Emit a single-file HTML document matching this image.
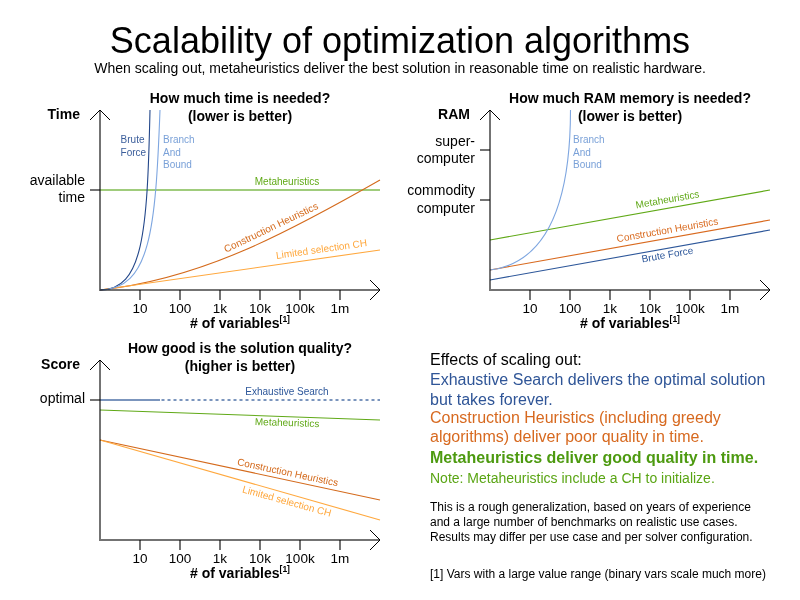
<!DOCTYPE html>
<html><head><meta charset="utf-8">
<style>
html,body{margin:0;padding:0;background:#fff;width:800px;height:600px;overflow:hidden}
svg{display:block;will-change:transform}
text{font-family:"Liberation Sans",sans-serif}
.b{font-weight:bold}
.ax{stroke:#000;stroke-opacity:0.55;stroke-width:2;fill:none}
.ar{stroke:#000;stroke-width:1;fill:none}
</style></head><body>
<svg width="800" height="600" viewBox="0 0 800 600">
<rect width="800" height="600" fill="#fff"/>
<text x="400" y="53" font-size="36" text-anchor="middle" fill="#000">Scalability of optimization algorithms</text>
<text x="400" y="72.5" font-size="14" text-anchor="middle" fill="#000">When scaling out, metaheuristics deliver the best solution in reasonable time on realistic hardware.</text>

<!-- ============ Chart 1: Time ============ -->
<g>
<text x="240" y="103" font-size="14" class="b" text-anchor="middle">How much time is needed?</text>
<text x="240" y="121" font-size="14" class="b" text-anchor="middle">(lower is better)</text>
<text x="80" y="119" font-size="14" class="b" text-anchor="end">Time</text>
<text x="85" y="185" font-size="14" text-anchor="end">available</text>
<text x="85" y="202" font-size="14" text-anchor="end">time</text>
<line x1="100" y1="190" x2="380" y2="190" stroke="#a0cc7c" stroke-width="2"/>
<path d="M100,290 C200.2,279.2 284.8,234.3 380,180" fill="none" stroke="#d46a1c" stroke-width="1.1"/>
<line x1="100" y1="290" x2="380" y2="250" stroke="#ffa83e" stroke-width="1.1"/>
<path d="M100,290 C143.1,290 147.3,232.9 150,110" fill="none" stroke="#23478a" stroke-width="1.1"/>
<path d="M100,290 C150.4,289.2 155.5,230 160,110" fill="none" stroke="#7ea6e0" stroke-width="1.1"/>
<text x="120.6" y="142.9" font-size="10" fill="#3b5e9b">Brute</text>
<text x="120.6" y="155.7" font-size="10" fill="#3b5e9b">Force</text>
<text x="163" y="142.9" font-size="10" fill="#7aa1d8">Branch</text>
<text x="163" y="155.7" font-size="10" fill="#7aa1d8">And</text>
<text x="163" y="168.2" font-size="10" fill="#7aa1d8">Bound</text>
<text x="287" y="185" font-size="10" fill="#60a917" text-anchor="middle">Metaheuristics</text>
<text font-size="10" fill="#d46a1c" text-anchor="middle" transform="translate(272.5 230.5) rotate(-25.5)">Construction Heuristics</text>
<text font-size="10" fill="#ffa83e" text-anchor="middle" transform="translate(322 252.5) rotate(-8)">Limited selection CH</text>
<path class="ax" d="M100,110 V290 H380"/><path class="ax" d="M90,190 H100"/><path class="ax" d="M140,290 v10 M180,290 v10 M220,290 v10 M260,290 v10 M300,290 v10 M340,290 v10"/>
<path class="ar" d="M90,120 L100,110 L110,120 M370,280 L380,290 L370,300"/>
<g font-size="13.5" text-anchor="middle">
<text x="140" y="312.7">10</text><text x="180" y="312.7">100</text><text x="220" y="312.7">1k</text>
<text x="260" y="312.7">10k</text><text x="300" y="312.7">100k</text><text x="340" y="312.7">1m</text>
</g>
<text x="240" y="328" font-size="14" class="b" text-anchor="middle"># of variables<tspan font-size="8.5" dy="-6">[1]</tspan></text>
</g>

<!-- ============ Chart 2: RAM ============ -->
<g>
<text x="630" y="103" font-size="14" class="b" text-anchor="middle">How much RAM memory is needed?</text>
<text x="630" y="121" font-size="14" class="b" text-anchor="middle">(lower is better)</text>
<text x="470" y="119" font-size="14" class="b" text-anchor="end">RAM</text>
<text x="475" y="145.5" font-size="14" text-anchor="end">super-</text>
<text x="475" y="162.5" font-size="14" text-anchor="end">computer</text>
<text x="475" y="195" font-size="14" text-anchor="end">commodity</text>
<text x="475" y="212.5" font-size="14" text-anchor="end">computer</text>
<line x1="490" y1="240" x2="770" y2="190" stroke="#60a917" stroke-width="1.1"/>
<line x1="490" y1="270" x2="770" y2="220" stroke="#d96a1f" stroke-width="1.1"/>
<line x1="490" y1="280" x2="770" y2="230" stroke="#2d579a" stroke-width="1.1"/>
<path d="M490,270 C543.2,263.2 570.4,210 570.5,110" fill="none" stroke="#7ea6e0" stroke-width="1.1"/>
<text x="573" y="142.9" font-size="10" fill="#7aa1d8">Branch</text>
<text x="573" y="155.7" font-size="10" fill="#7aa1d8">And</text>
<text x="573" y="168.2" font-size="10" fill="#7aa1d8">Bound</text>
<text font-size="10" fill="#60a917" text-anchor="middle" transform="translate(668 202.8) rotate(-10)">Metaheuristics</text>
<text font-size="10" fill="#d96a1f" text-anchor="middle" transform="translate(668 233.3) rotate(-10)">Construction Heuristics</text>
<text font-size="10" fill="#2d579a" text-anchor="middle" transform="translate(668 258) rotate(-10)">Brute Force</text>
<path class="ax" d="M490,110 V290 H770"/><path class="ax" d="M480,150 H490 M480,200 H490"/><path class="ax" d="M530,290 v10 M570,290 v10 M610,290 v10 M650,290 v10 M690,290 v10 M730,290 v10"/>
<path class="ar" d="M480,120 L490,110 L500,120 M760,280 L770,290 L760,300"/>
<g font-size="13.5" text-anchor="middle">
<text x="530" y="312.7">10</text><text x="570" y="312.7">100</text><text x="610" y="312.7">1k</text>
<text x="650" y="312.7">10k</text><text x="690" y="312.7">100k</text><text x="730" y="312.7">1m</text>
</g>
<text x="630" y="328" font-size="14" class="b" text-anchor="middle"># of variables<tspan font-size="8.5" dy="-6">[1]</tspan></text>
</g>

<!-- ============ Chart 3: Score ============ -->
<g>
<text x="240" y="353" font-size="14" class="b" text-anchor="middle">How good is the solution quality?</text>
<text x="240" y="371" font-size="14" class="b" text-anchor="middle">(higher is better)</text>
<text x="80" y="369" font-size="14" class="b" text-anchor="end">Score</text>
<text x="85" y="402.75" font-size="14" text-anchor="end">optimal</text>
<line x1="100" y1="400" x2="160" y2="400" stroke="#7b95bd" stroke-width="2"/>
<line x1="161.5" y1="400" x2="380" y2="400" stroke="#7b95bd" stroke-width="2" stroke-dasharray="3 3"/>
<line x1="100" y1="410" x2="380" y2="420" stroke="#60a917" stroke-width="1.1"/>
<line x1="100" y1="440" x2="380" y2="500" stroke="#d46a1c" stroke-width="1.1"/>
<line x1="100" y1="440" x2="380" y2="520" stroke="#ffa83e" stroke-width="1.1"/>
<text x="287" y="395" font-size="10" fill="#2d579a" text-anchor="middle">Exhaustive Search</text>
<text font-size="10" fill="#60a917" text-anchor="middle" transform="translate(287 426) rotate(2)">Metaheuristics</text>
<text font-size="10" fill="#d46a1c" text-anchor="middle" transform="translate(287 475.7) rotate(12)">Construction Heuristics</text>
<text font-size="10" fill="#ffa83e" text-anchor="middle" transform="translate(286 504.5) rotate(15.5)">Limited selection CH</text>
<path class="ax" d="M100,360 V540 H380"/><path class="ax" d="M90,400 H100"/><path class="ax" d="M140,540 v10 M180,540 v10 M220,540 v10 M260,540 v10 M300,540 v10 M340,540 v10"/>
<path class="ar" d="M90,370 L100,360 L110,370 M370,530 L380,540 L370,550"/>
<g font-size="13.5" text-anchor="middle">
<text x="140" y="562.7">10</text><text x="180" y="562.7">100</text><text x="220" y="562.7">1k</text>
<text x="260" y="562.7">10k</text><text x="300" y="562.7">100k</text><text x="340" y="562.7">1m</text>
</g>
<text x="240" y="578" font-size="14" class="b" text-anchor="middle"># of variables<tspan font-size="8.5" dy="-6">[1]</tspan></text>
</g>

<!-- ============ Text block ============ -->
<g>
<text x="430" y="364.5" font-size="16" fill="#000">Effects of scaling out:</text>
<text x="430" y="384.5" font-size="16" fill="#2f5597">Exhaustive Search delivers the optimal solution</text>
<text x="430" y="404.5" font-size="16" fill="#2f5597">but takes forever.</text>
<text x="430" y="422.5" font-size="16" fill="#d7691f">Construction Heuristics (including greedy</text>
<text x="430" y="442" font-size="16" fill="#d7691f">algorithms) deliver poor quality in time.</text>
<text x="430" y="462.5" font-size="16" class="b" fill="#4d9a10">Metaheuristics deliver good quality in time.</text>
<text x="430" y="482.7" font-size="14" fill="#5aa514">Note: Metaheuristics include a CH to initialize.</text>
<text x="430" y="510.5" font-size="12" fill="#000">This is a rough generalization, based on years of experience</text>
<text x="430" y="525.5" font-size="12" fill="#000">and a large number of benchmarks on realistic use cases.</text>
<text x="430" y="540.5" font-size="12" fill="#000">Results may differ per use case and per solver configuration.</text>
<text x="430" y="577.5" font-size="12" fill="#000">[1] Vars with a large value range (binary vars scale much more)</text>
</g>
</svg>
</body></html>
